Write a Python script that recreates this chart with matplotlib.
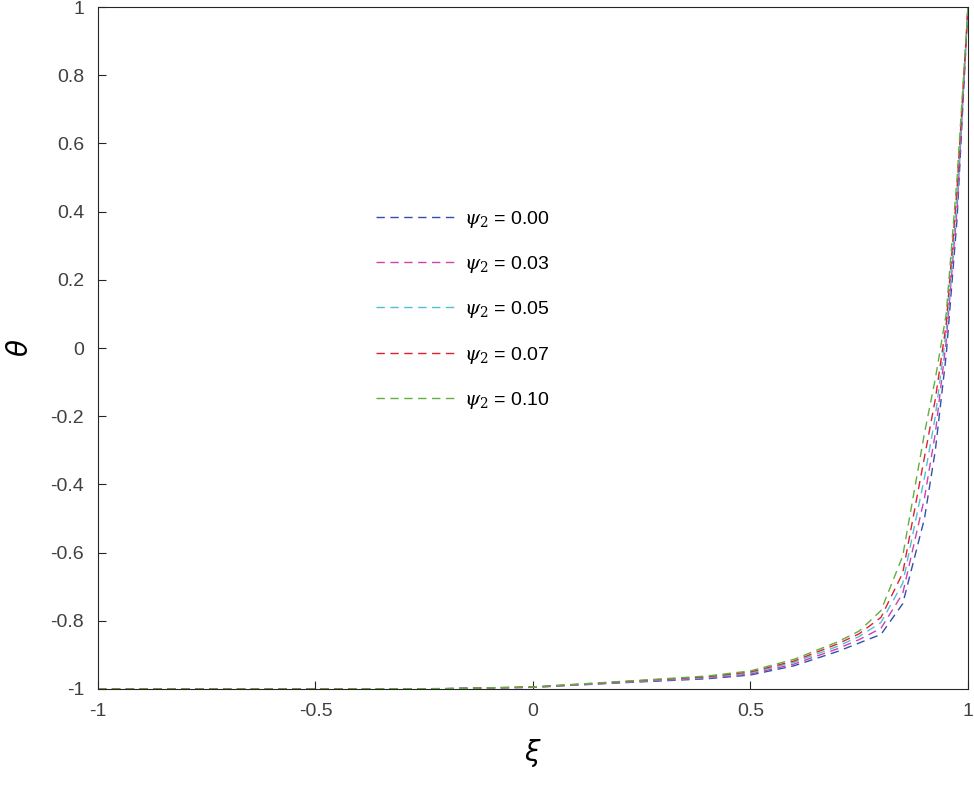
import matplotlib.pyplot as plt

xi = [-1.0, -0.5, -0.2, 0.0, 0.2, 0.4, 0.5, 0.6, 0.7, 0.75, 0.8, 0.85, 0.9, 0.925, 0.95, 0.975, 1.0]

theta_000 = [-1, -1, -0.999, -0.995, -0.982, -0.970, -0.959, -0.932, -0.890, -0.865, -0.840, -0.75, -0.50, -0.30, -0.02, 0.38, 1]
theta_003 = [-1, -1, -0.999, -0.995, -0.981, -0.968, -0.956, -0.927, -0.882, -0.855, -0.822, -0.72, -0.44, -0.25, 0.02, 0.41, 1]
theta_005 = [-1, -1, -0.999, -0.995, -0.980, -0.966, -0.953, -0.922, -0.875, -0.846, -0.805, -0.69, -0.38, -0.20, 0.05, 0.44, 1]
theta_007 = [-1, -1, -0.999, -0.994, -0.979, -0.964, -0.950, -0.918, -0.868, -0.838, -0.790, -0.66, -0.32, -0.15, 0.07, 0.47, 1]
theta_010 = [-1, -1, -0.999, -0.994, -0.978, -0.962, -0.947, -0.913, -0.862, -0.830, -0.770, -0.61, -0.25, -0.09, 0.10, 0.50, 1]

series = [theta_000, theta_003, theta_005, theta_007, theta_010]
labels = ['0.00', '0.03', '0.05', '0.07', '0.10']
colors = ['#3050b0', '#d040b0', '#50c0d8', '#e02030', '#60b040']

plt.rcParams['font.family'] = ['Liberation Sans', 'DejaVu Sans']

fig = plt.figure(figsize=(9.74, 7.85), dpi=100)
ax = fig.add_axes([0.1006, 0.1223, 0.8932, 0.8687])

for ys, lab, c in zip(series, labels, colors):
    ax.plot(xi, ys, '--', color=c, lw=1.0, dashes=(6, 4),
            label=r'$\psi_2$' + ' = ' + lab)

ax.set_xlim(-1, 1)
ax.set_ylim(-1, 1)
ax.set_xticks([-1, -0.5, 0, 0.5, 1])
ax.set_xticklabels(['-1', '-0.5', '0', '0.5', '1'])
ax.set_yticks([-1, -0.8, -0.6, -0.4, -0.2, 0, 0.2, 0.4, 0.6, 0.8, 1])
ax.set_yticklabels(['-1', '-0.8', '-0.6', '-0.4', '-0.2', '0', '0.2', '0.4', '0.6', '0.8', '1'])
ax.tick_params(direction='in', labelsize=14, colors='#262626', labelcolor='#404040', length=6, pad=10)
for s in ax.spines.values():
    s.set_color('#262626')

ax.set_xlabel(r'$\xi$', fontsize=20, family='DejaVu Serif', labelpad=12)
ax.set_ylabel(r'$\theta$', fontsize=20, family='DejaVu Serif', labelpad=12)
plt.rcParams['mathtext.fontset'] = 'dejavuserif'

leg = ax.legend(loc='upper left', bbox_to_anchor=(0.30, 0.73), frameon=False,
                fontsize=14, handlelength=4.2, labelspacing=1.25, handletextpad=0.3)

fig.savefig('out.png')
